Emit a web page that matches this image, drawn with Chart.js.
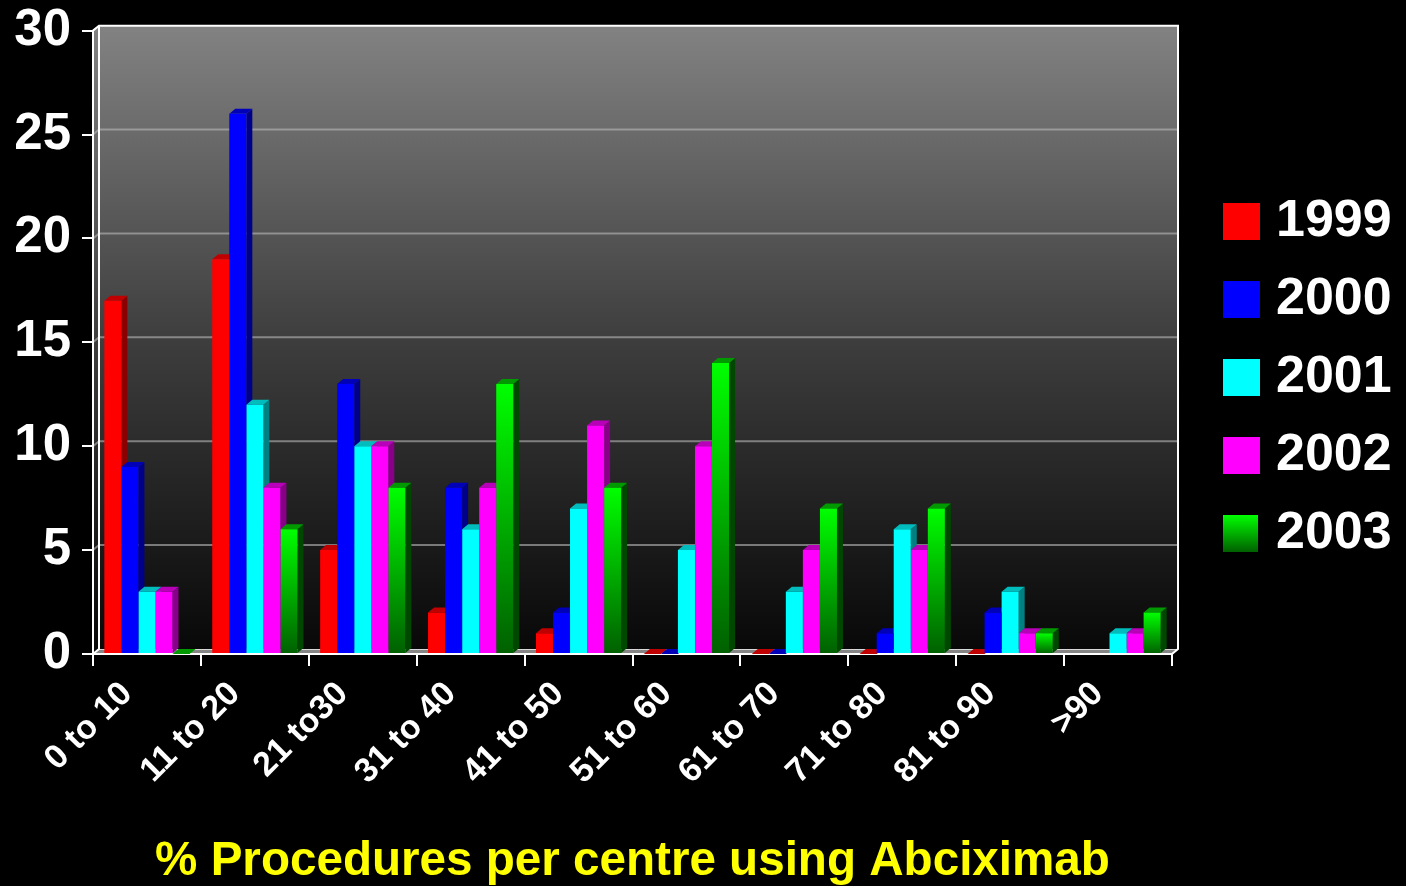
<!DOCTYPE html>
<html>
<head>
<meta charset="utf-8">
<script src="https://cdn.jsdelivr.net/npm/chart.js@4.4.1/dist/chart.umd.min.js"></script>
<style>
html,body{margin:0;padding:0;background:#000;}
#c{display:block;background:#000;}
</style>
</head>
<body>
<canvas id="c" width="1406" height="886"></canvas>
<script>
// ---- data ----
const categories = ["0 to 10","11 to 20","21 to30","31 to 40","41 to 50","51 to 60","61 to 70","71 to 80","81 to 90",">90"];
const seriesLabels = ["1999","2000","2001","2002","2003"];
const v1999 = [17,19,5,2,1,0,0,0,0,null];
const v2000 = [9,26,13,8,2,0,0,1,2,null];
const v2001 = [3,12,10,6,7,5,3,6,3,1];
const v2002 = [3,8,10,8,11,10,5,5,1,1];
const v2003 = [0,6,8,13,8,14,7,7,1,2];
const yTickValues = [0,5,10,15,20,25,30];
const xAxisTitle = "% Procedures per centre using Abciximab";

// ---- styles ----
const FONT = '"Liberation Sans", Arial, Helvetica, sans-serif';
const frontColors = ['#ff0000','#0000ff','#00ffff','#ff00ff','#00e000'];
const topColors   = ['#c00000','#0000b8','#00bcbc','#b800b8','#009a00'];
const sideColors  = ['#8a0000','#000088','#008080','#880088','#004800'];
const DX = 6, DY = 5;

function greenGradient(ctx, top, bottom){
  const g = ctx.createLinearGradient(0, top, 0, bottom);
  g.addColorStop(0, '#00ff00');
  g.addColorStop(1, '#006000');
  return g;
}

const allSeries = [v1999, v2000, v2001, v2002, v2003];

const datasets = allSeries.map((vals, i) => ({
  label: seriesLabels[i],
  data: vals,
  borderWidth: 0,
  barPercentage: 1.0,
  categoryPercentage: 0.79,
  backgroundColor: i < 4 ? frontColors[i] : function(c){
    const chart = c.chart;
    if (!chart.chartArea || c.type !== 'data' || c.raw == null) return frontColors[4];
    const ys = chart.scales.y;
    const t = ys.getPixelForValue(c.raw), b = ys.getPixelForValue(0);
    if (!(b > t)) return '#00ff00';
    return greenGradient(chart.ctx, t, b);
  }
}));

const scenePlugin = {
  id: 'scene3d',
  beforeDraw(chart){
    const ctx = chart.ctx, a = chart.chartArea;
    const L = a.left, R = a.right, T = a.top, B = a.bottom;
    const ys = chart.scales.y;
    ctx.save();
    ctx.fillStyle = '#000';
    ctx.fillRect(0,0,chart.width,chart.height);
    // back wall gradient
    const g = ctx.createLinearGradient(0, T-DY, 0, B-DY);
    g.addColorStop(0, '#828282');
    g.addColorStop(0.5, '#3e3e3e');
    g.addColorStop(1, '#080808');
    ctx.fillStyle = g;
    ctx.fillRect(L+DX, T-DY, R-L, B-T);
    // left side wall
    ctx.beginPath();
    ctx.moveTo(L, T); ctx.lineTo(L+DX, T-DY); ctx.lineTo(L+DX, B-DY); ctx.lineTo(L, B); ctx.closePath();
    ctx.fill();
    // gridlines on back wall
    ctx.strokeStyle = 'rgba(185,185,185,0.6)';
    ctx.lineWidth = 2;
    yTickValues.forEach(v => {
      if (v === 0 || v === 30) return;
      const y = ys.getPixelForValue(v);
      ctx.beginPath();
      ctx.moveTo(L, y); ctx.lineTo(L+DX, y-DY); ctx.lineTo(R+DX, y-DY);
      ctx.stroke();
    });
    // floor
    ctx.fillStyle = '#858585';
    ctx.beginPath();
    ctx.moveTo(L, B); ctx.lineTo(L+DX, B-DY); ctx.lineTo(R+DX, B-DY); ctx.lineTo(R, B); ctx.closePath();
    ctx.fill();
    ctx.strokeStyle = '#d8d8d8'; ctx.lineWidth = 1;
    ctx.beginPath(); ctx.moveTo(L+DX, B-DY+0.5); ctx.lineTo(R+DX, B-DY+0.5); ctx.stroke();
    // white frame edges
    ctx.strokeStyle = '#ffffff'; ctx.lineWidth = 2;
    ctx.beginPath();
    ctx.moveTo(L, T); ctx.lineTo(L+DX, T-DY); ctx.lineTo(R+DX, T-DY); ctx.lineTo(R+DX, B-DY); ctx.lineTo(R, B);
    ctx.stroke();
    ctx.beginPath();
    ctx.moveTo(L+DX, T-DY); ctx.lineTo(L+DX, B-DY); ctx.lineTo(L, B);
    ctx.stroke();
    ctx.restore();
  },
  beforeDatasetsDraw(chart){
    const ctx = chart.ctx;
    const n = chart.data.labels.length;
    ctx.save();
    for (let i = 0; i < n; i++){
      for (let j = 0; j < chart.data.datasets.length; j++){
        const raw = chart.data.datasets[j].data[i];
        if (raw == null) continue;
        const el = chart.getDatasetMeta(j).data[i];
        if (!el) continue;
        const p = el.getProps(['x','y','base','width'], true);
        const l = p.x - p.width/2, r = p.x + p.width/2, y = p.y, b = p.base;
        if (b - y > 0.5){
          ctx.fillStyle = sideColors[j];
          ctx.beginPath();
          ctx.moveTo(r, y); ctx.lineTo(r+DX, y-DY); ctx.lineTo(r+DX, b-DY); ctx.lineTo(r, b); ctx.closePath();
          ctx.fill();
        }
        ctx.fillStyle = topColors[j];
        ctx.beginPath();
        ctx.moveTo(l, y); ctx.lineTo(l+DX, y-DY); ctx.lineTo(r+DX, y-DY); ctx.lineTo(r, y); ctx.closePath();
        ctx.fill();
      }
    }
    ctx.restore();
  },
  afterDraw(chart){
    const ctx = chart.ctx;
    ctx.save();
    ctx.font = 'bold 52px ' + FONT;
    ctx.textBaseline = 'middle';
    ctx.textAlign = 'left';
    chart.data.datasets.forEach((ds, i) => {
      const yc = 221 + i*78;
      const bx = 1223, by = yc - 18, s = 37;
      ctx.fillStyle = i < 4 ? frontColors[i] : greenGradient(ctx, by, by + s);
      ctx.fillRect(bx, by, i < 4 ? s : 35, s);
      ctx.fillStyle = '#ffffff';
      ctx.fillText(ds.label, 1276, yc + 1);
    });
    ctx.restore();
  }
};

Chart.defaults.font.family = FONT;

new Chart(document.getElementById('c'), {
  type: 'bar',
  data: { labels: categories, datasets: datasets },
  plugins: [scenePlugin],
  options: {
    responsive: false,
    animation: false,
    devicePixelRatio: 1,
    layout: { padding: { left: 14, right: 234, top: 0, bottom: 0 } },
    plugins: { legend: { display: false }, tooltip: { enabled: false } },
    scales: {
      y: {
        min: 0, max: 30,
        afterBuildTicks: s => { s.ticks = yTickValues.map(v => ({ value: v })); },
        afterFit: s => { s.width = 79; },
        ticks: { color: '#ffffff', font: { size: 51, weight: 'bold', lineHeight: 0.77 }, padding: 11 },
        grid: { drawOnChartArea: false, drawTicks: true, tickLength: 11, color: '#ffffff', lineWidth: 2 },
        border: { display: true, color: '#ffffff', width: 2 }
      },
      x: {
        afterFit: s => { s.height = 232; },
        ticks: { color: '#ffffff', font: { size: 34, weight: 'bold' }, minRotation: 45, maxRotation: 45, padding: 8, labelOffset: -20, autoSkip: false },
        grid: { drawOnChartArea: false, drawTicks: true, tickLength: 12, color: '#ffffff', lineWidth: 2, offset: true },
        border: { display: true, color: '#ffffff', width: 2 },
        title: { display: true, text: xAxisTitle, color: '#ffff00', font: { size: 47.6, weight: 'bold' }, padding: { top: 0, bottom: -4 } }
      }
    }
  }
});
</script>
</body>
</html>
